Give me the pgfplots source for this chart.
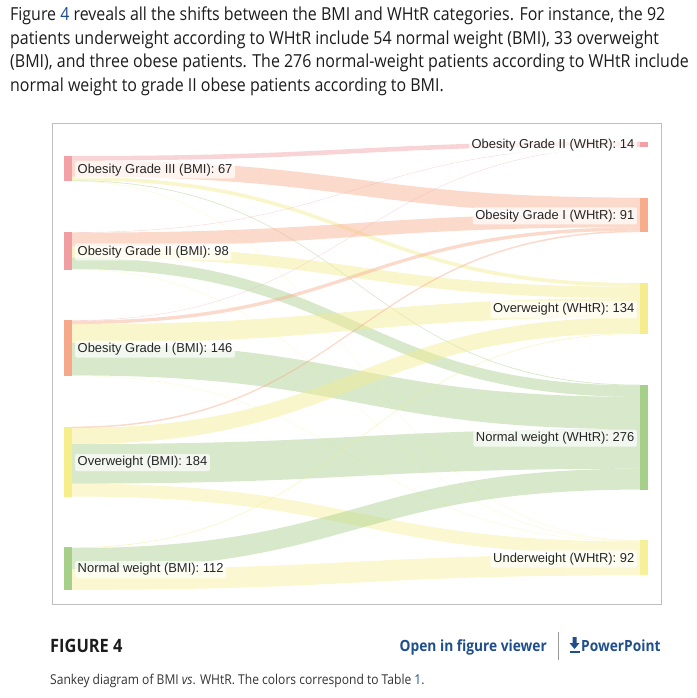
\documentclass[border=0pt]{standalone}
\usepackage{pgfplots}
\usepackage{pgfplotstable}
\pgfplotsset{compat=1.18}
\usepackage{fontspec}
\setmainfont{Open Sans}
\newfontfamily\para[FakeStretch=0.89]{Open Sans}
\newfontfamily\lab{Liberation Sans}

\definecolor{L0}{HTML}{F3A1A6}
\definecolor{L1}{HTML}{F19EA3}
\definecolor{L2}{HTML}{F6A98A}
\definecolor{L3}{HTML}{F6EE8B}
\definecolor{L4}{HTML}{A6D08A}
\definecolor{R1}{HTML}{F2A0A5}
\definecolor{R2}{HTML}{F7AC8B}
\definecolor{R3}{HTML}{F5EC8E}
\definecolor{R4}{HTML}{A6CF8A}
\definecolor{R5}{HTML}{F6F098}
\definecolor{txt}{HTML}{1C1C1C}
\definecolor{wiley}{HTML}{1F4E8C}
\definecolor{frame}{HTML}{BFBFBF}

% patients moving from each BMI category (rows) to each WHtR category (columns)
\pgfplotstableread{
bmi    ObII ObI OW  Normal Under
ObIII  12   42  10  2      1
ObII   1    36  30  30     1
ObI    1    9   50  85     1
OW     0    4   42  104    34
Normal 0    0   2   55     55
}\flows

\def\k{0.38}   % px per patient
\def\gap{50.8} % px between nodes

\begin{document}
\begin{tikzpicture}
% ---- node extents, left (BMI) column
\xdef\pos{156}
\foreach \i in {0,...,4}{%
  \xdef\acc{0}%
  \foreach \c in {ObII,ObI,OW,Normal,Under}{%
    \pgfplotstablegetelem{\i}{\c}\of\flows
    \pgfmathsetmacro\tmpv{\acc+\pgfplotsretval}\xdef\acc{\tmpv}%
  }%
  \expandafter\xdef\csname Lstart\i\endcsname{\pos}%
  \expandafter\xdef\csname Lrun\i\endcsname{\pos}%
  \pgfmathsetmacro\tmpv{\pos+\k*\acc}%
  \expandafter\xdef\csname Lend\i\endcsname{\tmpv}%
  \pgfmathsetmacro\tmpm{\pos+0.5*\k*\acc}%
  \expandafter\xdef\csname Lmid\i\endcsname{\tmpm}%
  \pgfmathsetmacro\tmpv{\tmpv+\gap}\xdef\pos{\tmpv}%
}
% ---- right (WHtR) column
\xdef\pos{141.5}
\foreach \j/\c in {1/ObII,2/ObI,3/OW,4/Normal,5/Under}{%
  \xdef\acc{0}%
  \foreach \i in {0,...,4}{%
    \pgfplotstablegetelem{\i}{\c}\of\flows
    \pgfmathsetmacro\tmpv{\acc+\pgfplotsretval}\xdef\acc{\tmpv}%
  }%
  \expandafter\xdef\csname Rstart\j\endcsname{\pos}%
  \expandafter\xdef\csname Rrun\j\endcsname{\pos}%
  \pgfmathsetmacro\tmpv{\pos+\k*\acc}%
  \expandafter\xdef\csname Rend\j\endcsname{\tmpv}%
  \pgfmathsetmacro\tmpm{\pos+0.5*\k*\acc}%
  \expandafter\xdef\csname Rmid\j\endcsname{\tmpm}%
  \pgfmathsetmacro\tmpv{\tmpv+\gap}\xdef\pos{\tmpv}%
}
% ---- links, coloured by target
\gdef\bands{}
\foreach \i in {0,...,4}{%
  \foreach \j/\c in {1/ObII,2/ObI,3/OW,4/Normal,5/Under}{%
    \pgfplotstablegetelem{\i}{\c}\of\flows
    \pgfmathsetmacro\w{\pgfplotsretval*\k}%
    \ifdim\w pt>0pt
      \edef\ys{\csname Lrun\i\endcsname}\edef\yt{\csname Rrun\j\endcsname}%
      \pgfmathsetmacro\ysb{\ys+\w}\pgfmathsetmacro\ytb{\yt+\w}%
      \xdef\bands{\unexpanded\expandafter{\bands}\noexpand\fill[R\j,fill opacity=0.45]
        (axis cs:72,\ys) .. controls (axis cs:356,\ys) and (axis cs:356,\yt) .. (axis cs:640,\yt)
        -- (axis cs:640,\ytb) .. controls (axis cs:356,\ytb) and (axis cs:356,\ysb) .. (axis cs:72,\ysb) -- cycle;}%
      \expandafter\xdef\csname Lrun\i\endcsname{\ysb}%
      \expandafter\xdef\csname Rrun\j\endcsname{\ytb}%
    \fi
  }%
}
\begin{axis}[
    x=1bp, y=1bp, y dir=reverse,
    xmin=0, xmax=697, ymin=0, ymax=698,
    hide axis, clip=false, scale only axis,
]
\path (axis cs:0,0) rectangle (axis cs:697,698);
% page text
\begin{scope}[every node/.style={anchor=base west, inner sep=0pt, text=txt, font=\para\fontsize{18}{20}\selectfont}]
\node at (axis cs:10,21) {Figure {\color{wiley}4} reveals all the shifts between the BMI and WHtR categories. For instance, the 92};
\node at (axis cs:10,45) {patients underweight according to WHtR include 54 normal weight (BMI), 33 overweight};
\node at (axis cs:10,68) {(BMI), and three obese patients. The 276 normal-weight patients according to WHtR include};
\node at (axis cs:10,92) {normal weight to grade II obese patients according to BMI.};
\end{scope}
\draw[frame, line width=1bp] (axis cs:52,124) rectangle (axis cs:661,604);
% flows
\bands
% nodes
\foreach \i in {0,...,4}{\edef\tmp{\noexpand\fill[L\i] (axis cs:64,\csname Lstart\i\endcsname) rectangle (axis cs:72,\csname Lend\i\endcsname);}\tmp}
\foreach \j in {1,...,5}{\edef\tmp{\noexpand\fill[R\j] (axis cs:640,\csname Rstart\j\endcsname) rectangle (axis cs:648,\csname Rend\j\endcsname);}\tmp}
% labels
\foreach \i/\t in {0/Obesity Grade III (BMI): 67,1/Obesity Grade II (BMI): 98,2/Obesity Grade I (BMI): 146,3/Overweight (BMI): 184,4/Normal weight (BMI): 112}{%
  \edef\tmp{\noexpand\node[anchor=west, fill=white, fill opacity=0.7, text opacity=1, rounded corners=2bp, inner xsep=2.5bp, inner ysep=2.5bp, text=black!85, font=\noexpand\lab\noexpand\fontsize{13}{15}\noexpand\selectfont] at (axis cs:75,\csname Lmid\i\endcsname+1) {\t};}\tmp}
\foreach \j/\t in {1/Obesity Grade II (WHtR): 14,2/Obesity Grade I (WHtR): 91,3/Overweight (WHtR): 134,4/Normal weight (WHtR): 276,5/Underweight (WHtR): 92}{%
  \edef\tmp{\noexpand\node[anchor=east, fill=white, fill opacity=0.7, text opacity=1, rounded corners=2bp, inner xsep=2.5bp, inner ysep=2.5bp, text=black!85, font=\noexpand\lab\noexpand\fontsize{13}{15}\noexpand\selectfont] at (axis cs:637,\csname Rmid\j\endcsname+1) {\t};}\tmp}
% caption block
\node[anchor=base west, inner sep=0pt, text=txt, font=\para\bfseries\fontsize{18.5}{20}\selectfont] at (axis cs:50,652) {FIGURE 4};
\node[anchor=base east, inner sep=0pt, text=wiley, font=\para\bfseries\fontsize{15.5}{18}\selectfont] at (axis cs:547,651) {Open in figure viewer};
\draw[black!40, line width=0.8bp] (axis cs:558,632) -- (axis cs:558,660);
\fill[wiley] (axis cs:572.5,637) rectangle (axis cs:576.5,643) (axis cs:569.5,643) -- (axis cs:579.5,643) -- (axis cs:574.5,649) -- cycle;
\fill[wiley] (axis cs:569.5,650.5) rectangle (axis cs:579.5,652.5);
\node[anchor=base west, inner sep=0pt, text=wiley, font=\para\bfseries\fontsize{15.5}{18}\selectfont] at (axis cs:581,651) {PowerPoint};
\node[anchor=base west, inner sep=0pt, text=txt!90, font=\para\fontsize{13.6}{16}\selectfont] at (axis cs:50,684) {Sankey diagram of BMI \emph{vs}. WHtR. The colors correspond to Table {\color{wiley}1}.};
\end{axis}
\end{tikzpicture}
\end{document}
